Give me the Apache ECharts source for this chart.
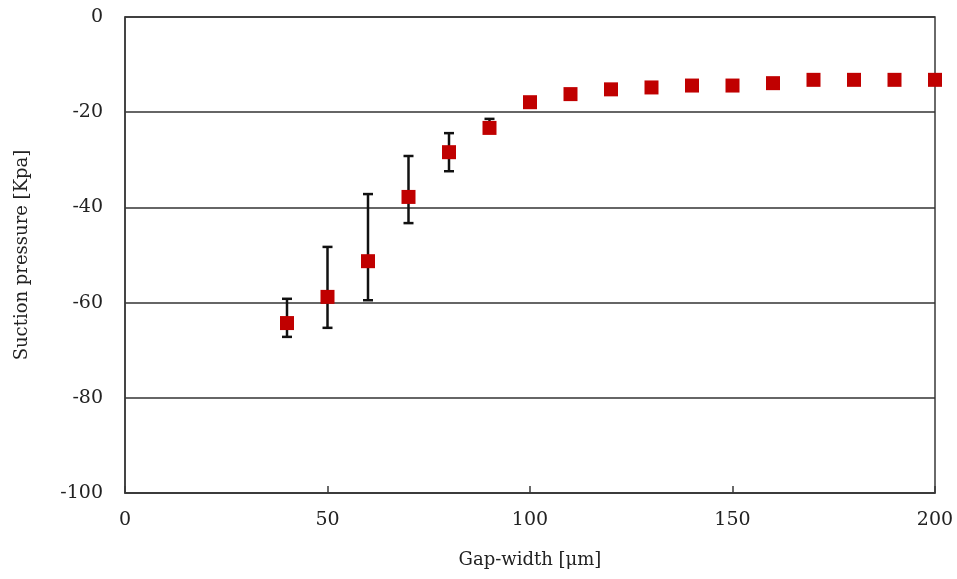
<!DOCTYPE html>
<html>
<head>
<meta charset="utf-8">
<script src="https://cdn.jsdelivr.net/npm/echarts@6/dist/echarts.min.js"></script>
<style>
  html, body { margin: 0; padding: 0; background: #fff; }
  #chart { width: 957px; height: 579px; }
</style>
</head>
<body>
<div id="chart"></div>
<script>
const gapWidth = [40, 50, 60, 70, 80, 90, 100, 110, 120, 130, 140, 150, 160, 170, 180, 190, 200];
const pressure = [-64.3, -58.8, -51.3, -37.8, -28.4, -23.3, -17.9, -16.2, -15.2, -14.8, -14.4, -14.4, -13.9, -13.2, -13.2, -13.2, -13.2];
// error bar ends (null = no bar visible)
const errTop = [-59.2, -48.3, -37.2, -29.2, -24.4, -21.4, null, null, null, null, null, null, null, null, null, null, null];
const errBottom = [-67.2, -65.3, -59.5, -43.3, -32.4, -24.2, null, null, null, null, null, null, null, null, null, null, null];

const points = gapWidth.map((x, i) => [x, pressure[i]]);
const bars = gapWidth
  .map((x, i) => [x, errTop[i], errBottom[i]])
  .filter((v) => v[1] !== null);

const font = "'DejaVu Serif', 'Liberation Serif', serif";

const chart = echarts.init(document.getElementById("chart"), null, { renderer: "canvas" });

chart.setOption({
  animation: false,
  grid: {
    left: 125,
    right: 22,
    top: 17,
    bottom: 86,
    show: true,
    borderColor: "#3a3a3a",
    borderWidth: 1.5,
  },
  xAxis: {
    type: "value",
    min: 0,
    max: 200,
    interval: 50,
    name: "Gap-width [μm]",
    nameLocation: "middle",
    nameGap: 58,
    nameTextStyle: { fontFamily: font, fontSize: 18, color: "#222" },
    axisLine: { onZero: false, lineStyle: { color: "#3a3a3a", width: 1.5 } },
    axisTick: { inside: true, length: 7, lineStyle: { color: "#3a3a3a", width: 1.5 } },
    axisLabel: { margin: 18, fontFamily: font, fontSize: 19, color: "#222" },
    splitLine: { show: false },
  },
  yAxis: {
    type: "value",
    min: -100,
    max: 0,
    interval: 20,
    name: "Suction pressure [Kpa]",
    nameLocation: "middle",
    nameGap: 94,
    nameTextStyle: { fontFamily: font, fontSize: 18, color: "#222" },
    axisLine: { show: true, lineStyle: { color: "#3a3a3a", width: 1.5 } },
    axisTick: { show: false },
    axisLabel: { margin: 22, fontFamily: font, fontSize: 19, color: "#222" },
    splitLine: { show: true, lineStyle: { color: "#333", width: 1.5 } },
  },
  series: [
    {
      type: "custom",
      data: bars,
      z: 2,
      renderItem: function (params, api) {
        const x = api.value(0);
        const top = api.coord([x, api.value(1)]);
        const bot = api.coord([x, api.value(2)]);
        const hw = 5;
        const style = { stroke: "#111", lineWidth: 2.5 };
        return {
          type: "group",
          children: [
            { type: "line", shape: { x1: top[0], y1: top[1], x2: bot[0], y2: bot[1] }, style },
            { type: "line", shape: { x1: top[0] - hw, y1: top[1], x2: top[0] + hw, y2: top[1] }, style },
            { type: "line", shape: { x1: bot[0] - hw, y1: bot[1], x2: bot[0] + hw, y2: bot[1] }, style },
          ],
        };
      },
    },
    {
      type: "scatter",
      data: points,
      symbol: "rect",
      symbolSize: 14,
      z: 3,
      itemStyle: { color: "#C00000", opacity: 1 },
    },
  ],
});
</script>
</body>
</html>
